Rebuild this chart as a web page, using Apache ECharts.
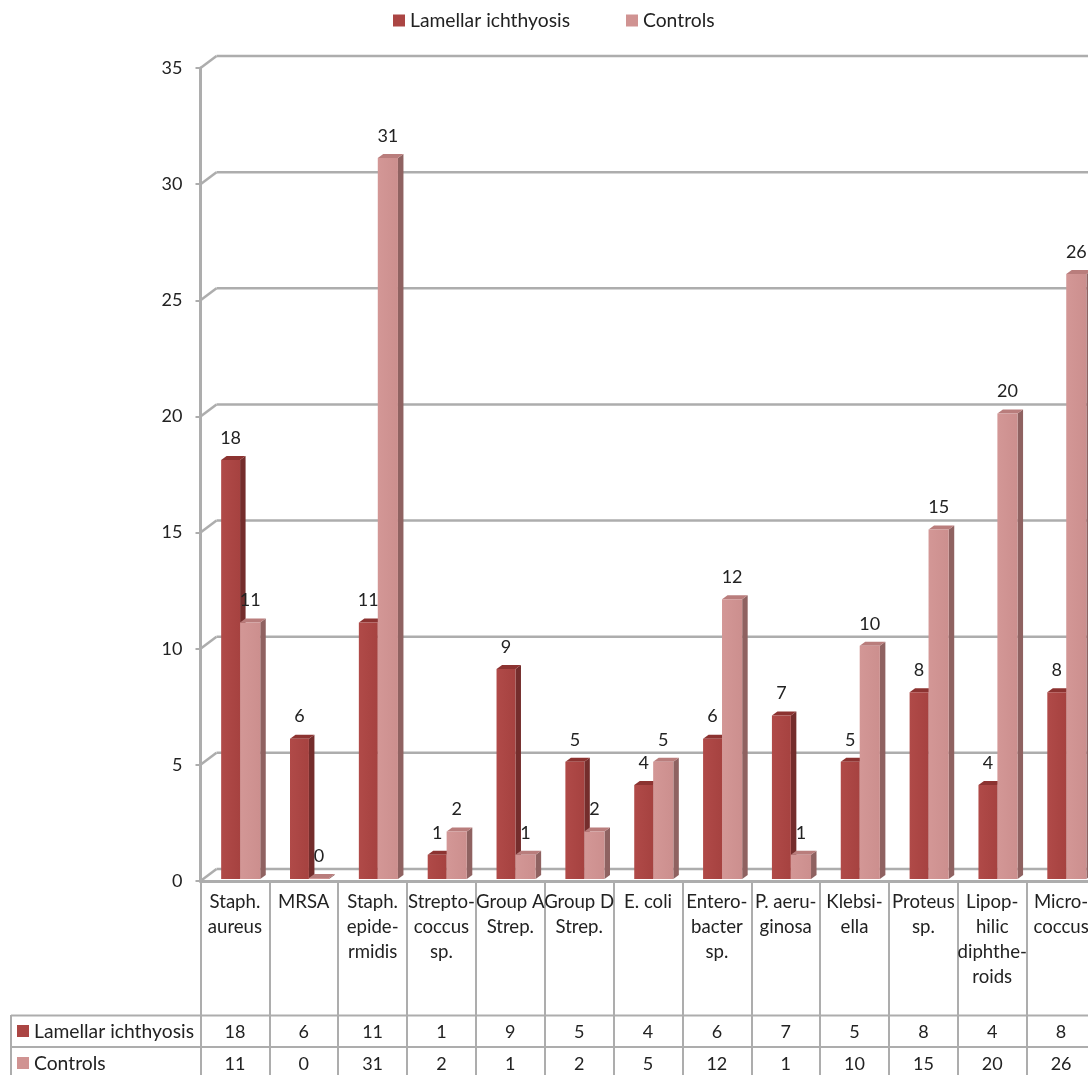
<!DOCTYPE html>
<html>
<head>
<meta charset="utf-8">
<title>Bacterial isolates: lamellar ichthyosis and controls</title>
<script src="https://cdn.jsdelivr.net/npm/echarts@6/dist/echarts.min.js"></script>
<style>html,body{margin:0;padding:0;background:#fff}#chart{width:1088px;height:1075px}</style>
</head>
<body>
<div id="chart"></div>
<script>
const categories = ['Staph.\naureus', 'MRSA', 'Staph.\nepide-\nrmidis', 'Strepto-\ncoccus\nsp.', 'Group A\nStrep.', 'Group D\nStrep.', 'E. coli', 'Entero-\nbacter\nsp.', 'P. aeru-\nginosa', 'Klebsi-\nella', 'Proteus\nsp.', 'Lipop-\nhilic\ndiphthe-\nroids', 'Micro-\ncoccus'];
const lamellar = [18, 6, 11, 1, 9, 5, 4, 6, 7, 5, 8, 4, 8];
const controls = [11, 0, 31, 2, 1, 2, 5, 12, 1, 10, 15, 20, 26];
const yTicks = [0, 5, 10, 15, 20, 25, 30, 35];
const lamellarName = 'Lamellar ichthyosis';
const controlsName = 'Controls';

const FONT = 'Lato, "Open Sans", sans-serif';
const TEXT = '#222222';
const LINE = '#adadad';
const FS_LEGEND = 19.3, FS_AXIS = 18.6, FS_VALUE = 18;
const WALL_DX = 16, WALL_DY = 12;   // offset of the back wall from the front plane
const DEPTH_DX = 5.5, DEPTH_DY = 4; // depth of one column
const FLOOR_LIFT = 3;               // columns stand slightly behind the front edge of the floor
const ROW1_Y = 1032, ROW2_Y = 1064;

// Back wall: a diagonal from the axis and a horizontal rule for every tick.
function renderWall(params, api) {
  const p = api.coord([0, api.value(0)]);
  const x0 = params.coordSys.x, y = p[1];
  const right = params.coordSys.x + params.coordSys.width;
  const style = { stroke: LINE, lineWidth: 2.5, fill: null };
  return { type: 'group', children: [
    { type: 'line', shape: { x1: x0, y1: y, x2: x0 + WALL_DX, y2: y - WALL_DY }, style },
    { type: 'line', shape: { x1: x0 + WALL_DX, y1: y - WALL_DY, x2: right, y2: y - WALL_DY }, style }
  ] };
}

// One extruded column with its value label and its data-table cell.
function columnRenderer(fromFrac, toFrac, colors, rowY) {
  return function (params, api) {
    const i = api.value(0), v = api.value(1);
    const top = api.coord([i, v]);
    const base = api.coord([i, 0]);
    const band = api.size([1, 0])[0];
    const left = top[0] - band / 2;
    const x1 = left + band * fromFrac, x2 = left + band * toFrac;
    const yT = top[1] - FLOOR_LIFT, yB = base[1] - FLOOR_LIFT + 1;
    const front = new echarts.graphic.LinearGradient(0, 0, 1, 0, [
      { offset: 0, color: colors.frontA }, { offset: 1, color: colors.frontB }
    ]);
    return { type: 'group', children: [
      { type: 'polygon', shape: { points: [[x2, yT], [x2 + DEPTH_DX, yT - DEPTH_DY], [x2 + DEPTH_DX, yB - DEPTH_DY], [x2, yB]] }, style: { fill: colors.side } },
      { type: 'polygon', shape: { points: [[x1, yT], [x1 + DEPTH_DX, yT - DEPTH_DY], [x2 + DEPTH_DX, yT - DEPTH_DY], [x2, yT]] }, style: { fill: colors.top } },
      { type: 'rect', shape: { x: x1, y: yT, width: x2 - x1, height: yB - yT }, style: { fill: front } },
      { type: 'text', x: (x1 + x2) / 2, y: yT - 22, style: { text: String(v), fill: TEXT, font: FS_VALUE + 'px ' + FONT, textAlign: 'center', textVerticalAlign: 'middle' }, z2: 10 },
      { type: 'text', x: top[0], y: rowY, style: { text: String(v), fill: TEXT, font: FS_VALUE + 'px ' + FONT, textAlign: 'center', textVerticalAlign: 'middle' } }
    ] };
  };
}

const lamellarColors = { frontA: '#b04a48', frontB: '#a64240', side: '#742d2c', top: '#8c3331' };
const controlsColors = { frontA: '#d39796', frontB: '#cc8f8e', side: '#8f6261', top: '#b97d7c' };

function hline(y, x1, x2) {
  return { type: 'line', shape: { x1, y1: y, x2, y2: y }, style: { stroke: LINE, lineWidth: 2 }, silent: true };
}

const chart = echarts.init(document.getElementById('chart'), null, { renderer: 'canvas' });
chart.setOption({
  animation: false,
  backgroundColor: '#fff',
  legend: {
    data: [lamellarName, controlsName],
    left: 393, top: 11, padding: 0, itemWidth: 12, itemHeight: 12, itemGap: 56,
    icon: 'rect',
    textStyle: { fontFamily: FONT, fontSize: FS_LEGEND, color: TEXT }
  },
  grid: { left: 200.5, top: 68, width: 895, height: 813, containLabel: false, outerBoundsMode: 'none' },
  xAxis: {
    type: 'category',
    data: categories,
    axisLine: { show: true, lineStyle: { color: LINE, width: 3 } },
    axisTick: { show: true, length: 194, lineStyle: { color: LINE, width: 2 } },
    axisLabel: { interval: 0, margin: 8, hideOverlap: false, fontFamily: FONT, fontSize: FS_AXIS, color: TEXT, lineHeight: 25, verticalAlign: 'top' },
    splitLine: { show: false }
  },
  yAxis: {
    type: 'value', min: 0, max: 35, interval: 5,
    axisLine: { show: true, lineStyle: { color: LINE, width: 3 } },
    axisTick: { show: true, length: 5, lineStyle: { color: LINE, width: 2 } },
    axisLabel: { margin: 18, fontFamily: FONT, fontSize: FS_VALUE, color: TEXT, padding: [2, 0, 0, 0] },
    splitLine: { show: false }
  },
  graphic: [
    hline(1015.5, 11, 1088),
    hline(1047, 11, 1088),
    { type: 'line', shape: { x1: 11, y1: 1015, x2: 11, y2: 1075 }, style: { stroke: LINE, lineWidth: 2 }, silent: true },
    { type: 'rect', shape: { x: 17, y: 1025, width: 12, height: 12 }, style: { fill: '#ab4543' }, silent: true },
    { type: 'rect', shape: { x: 17, y: 1057, width: 12, height: 12 }, style: { fill: '#d09392' }, silent: true },
    { type: 'text', x: 34, y: ROW1_Y, style: { text: lamellarName, fill: TEXT, font: FS_LEGEND + 'px ' + FONT, textVerticalAlign: 'middle' }, silent: true },
    { type: 'text', x: 34, y: ROW2_Y, style: { text: controlsName, fill: TEXT, font: FS_LEGEND + 'px ' + FONT, textVerticalAlign: 'middle' }, silent: true }
  ],
  series: [
    { name: 'wall', type: 'custom', z: 1, silent: true, coordinateSystem: 'cartesian2d',
      data: yTicks.map(t => [t]), encode: { y: 0 }, renderItem: renderWall },
    { name: lamellarName, type: 'custom', z: 2, silent: true, coordinateSystem: 'cartesian2d',
      itemStyle: { color: '#ab4543' },
      data: lamellar.map((v, i) => [i, v]), encode: { x: 0, y: 1 },
      renderItem: columnRenderer(0.30, 0.575, lamellarColors, ROW1_Y) },
    { name: controlsName, type: 'custom', z: 3, silent: true, coordinateSystem: 'cartesian2d',
      itemStyle: { color: '#d09392' },
      data: controls.map((v, i) => [i, v]), encode: { x: 0, y: 1 },
      renderItem: columnRenderer(0.575, 0.868, controlsColors, ROW2_Y) }
  ]
});
</script>
</body>
</html>
